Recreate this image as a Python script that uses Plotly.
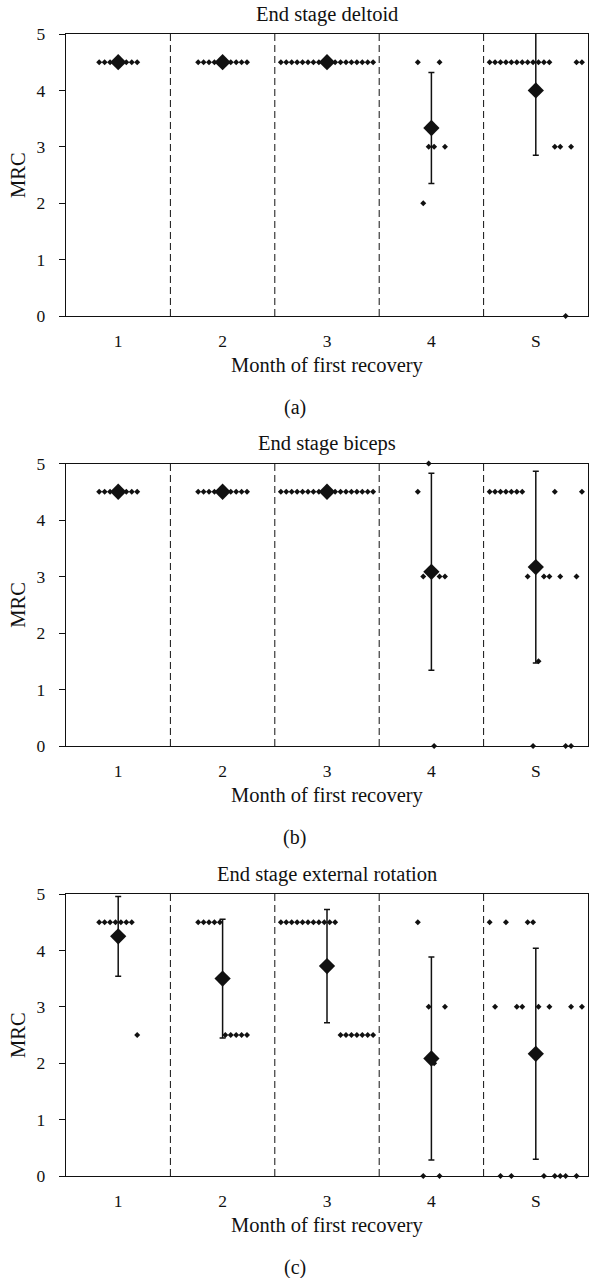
import numpy as np
import plotly.graph_objects as go

W, H = 589, 1278

# ---------------- data ----------------
categories = ["1", "2", "3", "4", "S"]
panel_titles = ["End stage deltoid", "End stage biceps", "End stage external rotation"]
panel_labels = ["(a)", "(b)", "(c)"]
x_title = "Month of first recovery"
y_title = "MRC"
y_ticks = [0, 1, 2, 3, 4, 5]

# (a) deltoid, MRC per patient, by month of first recovery
deltoid_m1 = [4.5, 4.5, 4.5, 4.5, 4.5, 4.5, 4.5, 4.5]
deltoid_m2 = [4.5, 4.5, 4.5, 4.5, 4.5, 4.5, 4.5, 4.5, 4.5, 4.5]
deltoid_m3 = [4.5, 4.5, 4.5, 4.5, 4.5, 4.5, 4.5, 4.5, 4.5, 4.5, 4.5, 4.5, 4.5, 4.5, 4.5, 4.5, 4.5, 4.5]
deltoid_m4 = [4.5, 2.0, 3.0, 3.0, 4.5, 3.0]
deltoid_s = [4.5, 4.5, 4.5, 4.5, 4.5, 4.5, 4.5, 4.5, 4.5, 4.5, 4.5, 4.5, 3.0, 3.0, 0.0, 3.0, 4.5, 4.5]

# (b) biceps
biceps_m1 = [4.5, 4.5, 4.5, 4.5, 4.5, 4.5, 4.5, 4.5]
biceps_m2 = [4.5, 4.5, 4.5, 4.5, 4.5, 4.5, 4.5, 4.5, 4.5, 4.5]
biceps_m3 = [4.5, 4.5, 4.5, 4.5, 4.5, 4.5, 4.5, 4.5, 4.5, 4.5, 4.5, 4.5, 4.5, 4.5, 4.5, 4.5, 4.5, 4.5]
biceps_m4 = [4.5, 3.0, 5.0, 0.0, 3.0, 3.0]
biceps_s = [4.5, 4.5, 4.5, 4.5, 4.5, 4.5, 4.5, 3.0, 0.0, 1.5, 3.0, 3.0, 4.5, 3.0, 0.0, 0.0, 3.0, 4.5]

# (c) external rotation
rotation_m1 = [4.5, 4.5, 4.5, 4.5, 4.5, 4.5, 4.5, 2.5]
rotation_m2 = [4.5, 4.5, 4.5, 4.5, 4.5, 2.5, 2.5, 2.5, 2.5, 2.5]
rotation_m3 = [4.5, 4.5, 4.5, 4.5, 4.5, 4.5, 4.5, 4.5, 4.5, 4.5, 4.5, 2.5, 2.5, 2.5, 2.5, 2.5, 2.5, 2.5]
rotation_m4 = [4.5, 0.0, 3.0, 2.0, 0.0, 3.0]
rotation_s = [4.5, 3.0, 0.0, 4.5, 0.0, 3.0, 3.0, 4.5, 4.5, 3.0, 0.0, 3.0, 0.0, 0.0, 0.0, 3.0, 0.0, 3.0]

panels = [
    [deltoid_m1, deltoid_m2, deltoid_m3, deltoid_m4, deltoid_s],
    [biceps_m1, biceps_m2, biceps_m3, biceps_m4, biceps_s],
    [rotation_m1, rotation_m2, rotation_m3, rotation_m4, rotation_s],
]

# ---------------- layout geometry (pixels) ----------------
FONT = "Liberation Serif"
INK = "#111111"
plot_left, plot_right = 66, 588
panel_tops = [34, 463.5, 894]
panel_bottoms = [316, 746, 1176]
dot_step = 0.052  # spacing between patients inside a category (axis units)


def px(x):
    return x / W


def py(y):
    return 1 - y / H


fig = go.Figure()
annotations = []
shapes = []

for i, groups in enumerate(panels):
    n = i + 1
    xa = "x" if n == 1 else f"x{n}"
    ya = "y" if n == 1 else f"y{n}"

    dx, dy, mx, my, sd = [], [], [], [], []
    for c, vals in enumerate(groups):
        center = c + 1
        k = len(vals)
        for j, v in enumerate(vals):
            dx.append(center + (j - (k - 1) / 2) * dot_step)
            dy.append(v)
        arr = np.array(vals, dtype=float)
        mx.append(center)
        my.append(arr.mean())
        sd.append(arr.std(ddof=1))

    fig.add_trace(go.Scatter(
        x=dx, y=dy, mode="markers", xaxis=xa, yaxis=ya,
        marker=dict(symbol="diamond", size=4.6, color=INK, line=dict(width=0)),
        cliponaxis=False, showlegend=False, hoverinfo="skip"))
    fig.add_trace(go.Scatter(
        x=mx, y=my, mode="markers", xaxis=xa, yaxis=ya,
        marker=dict(symbol="diamond", size=12.5, color=INK, line=dict(width=0)),
        error_y=dict(type="data", array=sd, visible=True, color=INK,
                     thickness=1.5, width=3),
        showlegend=False, hoverinfo="skip"))

    top, bot = panel_tops[i], panel_bottoms[i]
    axis_common = dict(showline=True, mirror=True, linecolor=INK, linewidth=1.3,
                       showgrid=False, zeroline=False, automargin=False,
                       tickfont=dict(family=FONT, size=17.5, color=INK))
    fig.update_layout({
        f"xaxis{'' if n == 1 else n}": dict(
            domain=[px(plot_left), px(plot_right)], anchor=ya,
            range=[0.5, 5.5], tickmode="array", tickvals=[1, 2, 3, 4, 5],
            ticktext=categories, ticks="", ticklabelstandoff=9, **axis_common),
        f"yaxis{'' if n == 1 else n}": dict(
            domain=[py(bot), py(top)], anchor=xa,
            range=[0, 5], tickmode="array", tickvals=y_ticks,
            ticks="outside", ticklen=6, tickwidth=1.2, tickcolor=INK,
            ticklabelstandoff=10, **axis_common),
    })

    for b in [1.5, 2.5, 3.5, 4.5]:
        shapes.append(dict(type="line", xref=xa, yref=f"{ya} domain",
                           x0=b, x1=b, y0=0, y1=1, layer="below",
                           line=dict(color=INK, width=1, dash="7px,4px")))

    cx = (plot_left + plot_right) / 2
    annotations.append(dict(text=panel_titles[i], x=px(cx), y=py(top - 20),
                            xref="paper", yref="paper", showarrow=False,
                            xanchor="center", yanchor="middle",
                            font=dict(family=FONT, size=20.5, color=INK)))
    annotations.append(dict(text=x_title, x=px(cx), y=py(bot + 49),
                            xref="paper", yref="paper", showarrow=False,
                            xanchor="center", yanchor="middle",
                            font=dict(family=FONT, size=20.5, color=INK)))
    annotations.append(dict(text=panel_labels[i], x=px(W / 2), y=py(bot + 91),
                            xref="paper", yref="paper", showarrow=False,
                            xanchor="center", yanchor="middle",
                            font=dict(family=FONT, size=20, color=INK)))
    annotations.append(dict(text=y_title, x=px(18), y=py((top + bot) / 2),
                            xref="paper", yref="paper", showarrow=False,
                            textangle=-90, xanchor="center", yanchor="middle",
                            font=dict(family=FONT, size=20.5, color=INK)))

fig.update_layout(
    width=W, height=H, autosize=False,
    margin=dict(l=0, r=0, t=0, b=0, pad=0),
    paper_bgcolor="white", plot_bgcolor="white",
    annotations=annotations, shapes=shapes, showlegend=False,
)

fig.write_html(
    "out.html",
    config={"displayModeBar": False},
    post_script="document.documentElement.style.margin='0';"
                "document.body.style.margin='0';"
                "document.body.style.overflow='hidden';",
)
